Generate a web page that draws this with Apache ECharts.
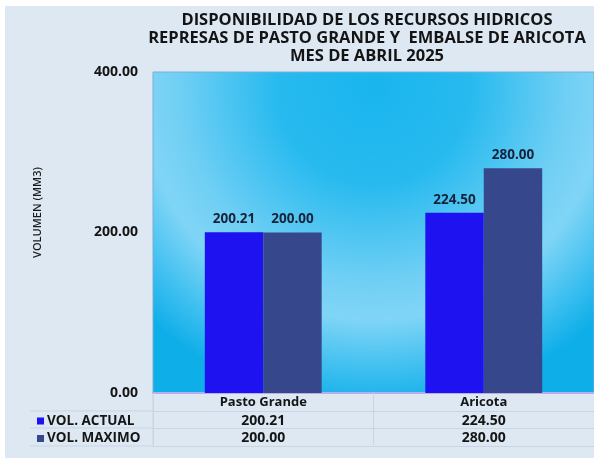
<!DOCTYPE html>
<html>
<head>
<meta charset="utf-8">
<script src="https://cdn.jsdelivr.net/npm/echarts@6/dist/echarts.min.js"></script>
<style>
  html, body { margin: 0; padding: 0; background: #fff; }
  #chart { width: 594px; height: 458px; }
</style>
</head>
<body>
<div id="chart"></div>
<script>
var categories = ['Pasto Grande', 'Aricota'];
var volActual = [200.21, 224.50];
var volMaximo = [200.00, 280.00];
var seriesNames = ['VOL. ACTUAL', 'VOL. MAXIMO'];
var yTicks = [0, 200, 400];

var FONT = 'Open Sans';
var lineColor = '#c9d5e3';
var fmt = function (v) { return Number(v).toFixed(2); };

// filas de la tabla de datos debajo del eje
function tableAxis(values, offset) {
    return {
        type: 'category',
        position: 'bottom',
        offset: offset,
        data: values.map(fmt),
        axisLine: { show: true, lineStyle: { color: lineColor, width: 1 } },
        axisTick: { show: true, length: 17, lineStyle: { color: lineColor } },
        axisLabel: { margin: 3, fontFamily: FONT, fontWeight: 'bold', fontSize: 14, color: '#151515' }
    };
}

var option = {
    backgroundColor: '#dde8f3',
    textStyle: { fontFamily: FONT },
    title: {
        text: 'DISPONIBILIDAD DE LOS RECURSOS HIDRICOS\nREPRESAS DE PASTO GRANDE Y  EMBALSE DE ARICOTA\nMES DE ABRIL 2025',
        left: 362,
        top: 6,
        textAlign: 'center',
        textStyle: { fontFamily: FONT, fontWeight: 'bold', fontSize: 16.5, lineHeight: 18, color: '#141414' }
    },
    legend: {
        data: seriesNames,
        orient: 'vertical',
        left: 32,
        top: 409,
        itemWidth: 7,
        itemHeight: 7,
        itemGap: 3.5,
        icon: 'rect',
        textStyle: { fontFamily: FONT, fontWeight: 'bold', fontSize: 13.5, lineHeight: 14, color: '#151515', padding: [0, 0, 0, -2] }
    },
    grid: {
        left: 153,
        right: -3,
        top: 72,
        bottom: 65,
        show: true,
        borderWidth: 1,
        borderColor: '#7aaed6',
        backgroundColor: {
            type: 'radial', x: 0.5, y: 0.05, r: 1,
            colorStops: [
                { offset: 0, color: '#1ab5ee' },
                { offset: 0.3, color: '#27baef' },
                { offset: 0.6, color: '#70cff4' },
                { offset: 0.72, color: '#80d5f6' },
                { offset: 0.88, color: '#3dbff0' },
                { offset: 1, color: '#0eaee8' }
            ]
        }
    },
    xAxis: [
        {
            type: 'category',
            data: categories,
            axisLine: { show: true, lineStyle: { color: '#b7aef0', width: 2 } },
            axisTick: { show: true, length: 18, lineStyle: { color: lineColor } },
            axisLabel: { margin: 3, fontFamily: FONT, fontWeight: 'bold', fontSize: 13, color: '#151515' }
        },
        tableAxis(volActual, 18),
        tableAxis(volMaximo, 35),
        {
            type: 'category', position: 'bottom', offset: 53, data: categories,
            axisLine: { show: true, lineStyle: { color: lineColor } },
            axisTick: { show: false }, axisLabel: { show: false }
        }
    ],
    yAxis: {
        type: 'value',
        min: yTicks[0],
        max: yTicks[yTicks.length - 1],
        interval: yTicks[1] - yTicks[0],
        name: 'VOLUMEN (MM3)',
        nameLocation: 'middle',
        nameRotate: 90,
        nameGap: 110,
        nameTextStyle: { fontFamily: FONT, fontSize: 11, fontWeight: 600, color: '#1a1a1a', padding: [0, 0, 0, 40] },
        axisLine: { show: false },
        axisTick: { show: false },
        splitLine: { show: false },
        axisLabel: { formatter: fmt, margin: 15, fontFamily: FONT, fontWeight: 'bold', fontSize: 14, color: '#151515' }
    },
    graphic: [
        { type: 'rect', z: 100, shape: { x: 0, y: 0, width: 5, height: 458 }, style: { fill: '#fff' } },
        { type: 'rect', z: 100, shape: { x: 0, y: 0, width: 594, height: 6 }, style: { fill: '#fff' } },
        { type: 'line', shape: { x1: 30, y1: 411, x2: 153, y2: 411 }, style: { stroke: lineColor, lineWidth: 1 } },
        { type: 'line', shape: { x1: 30, y1: 428, x2: 153, y2: 428 }, style: { stroke: lineColor, lineWidth: 1 } },
        { type: 'line', shape: { x1: 30, y1: 446, x2: 153, y2: 446 }, style: { stroke: lineColor, lineWidth: 1 } },
        { type: 'line', shape: { x1: 153, y1: 393, x2: 153, y2: 446 }, style: { stroke: lineColor, lineWidth: 1 } }
    ],
    series: [
        {
            name: seriesNames[0],
            type: 'bar',
            data: volActual,
            barGap: '0%',
            barCategoryGap: '47%',
            itemStyle: { color: '#1e12f0' },
            label: {
                show: true, position: 'top', distance: 6, formatter: function (p) { return fmt(p.value); },
                fontFamily: FONT, fontWeight: 'bold', fontSize: 13.5, color: '#17223a'
            }
        },
        {
            name: seriesNames[1],
            type: 'bar',
            data: volMaximo,
            itemStyle: { color: '#36478b' },
            label: {
                show: true, position: 'top', distance: 6, formatter: function (p) { return fmt(p.value); },
                fontFamily: FONT, fontWeight: 'bold', fontSize: 13.5, color: '#17223a'
            }
        }
    ]
};

echarts.init(document.getElementById('chart')).setOption(option);
</script>
</body>
</html>
